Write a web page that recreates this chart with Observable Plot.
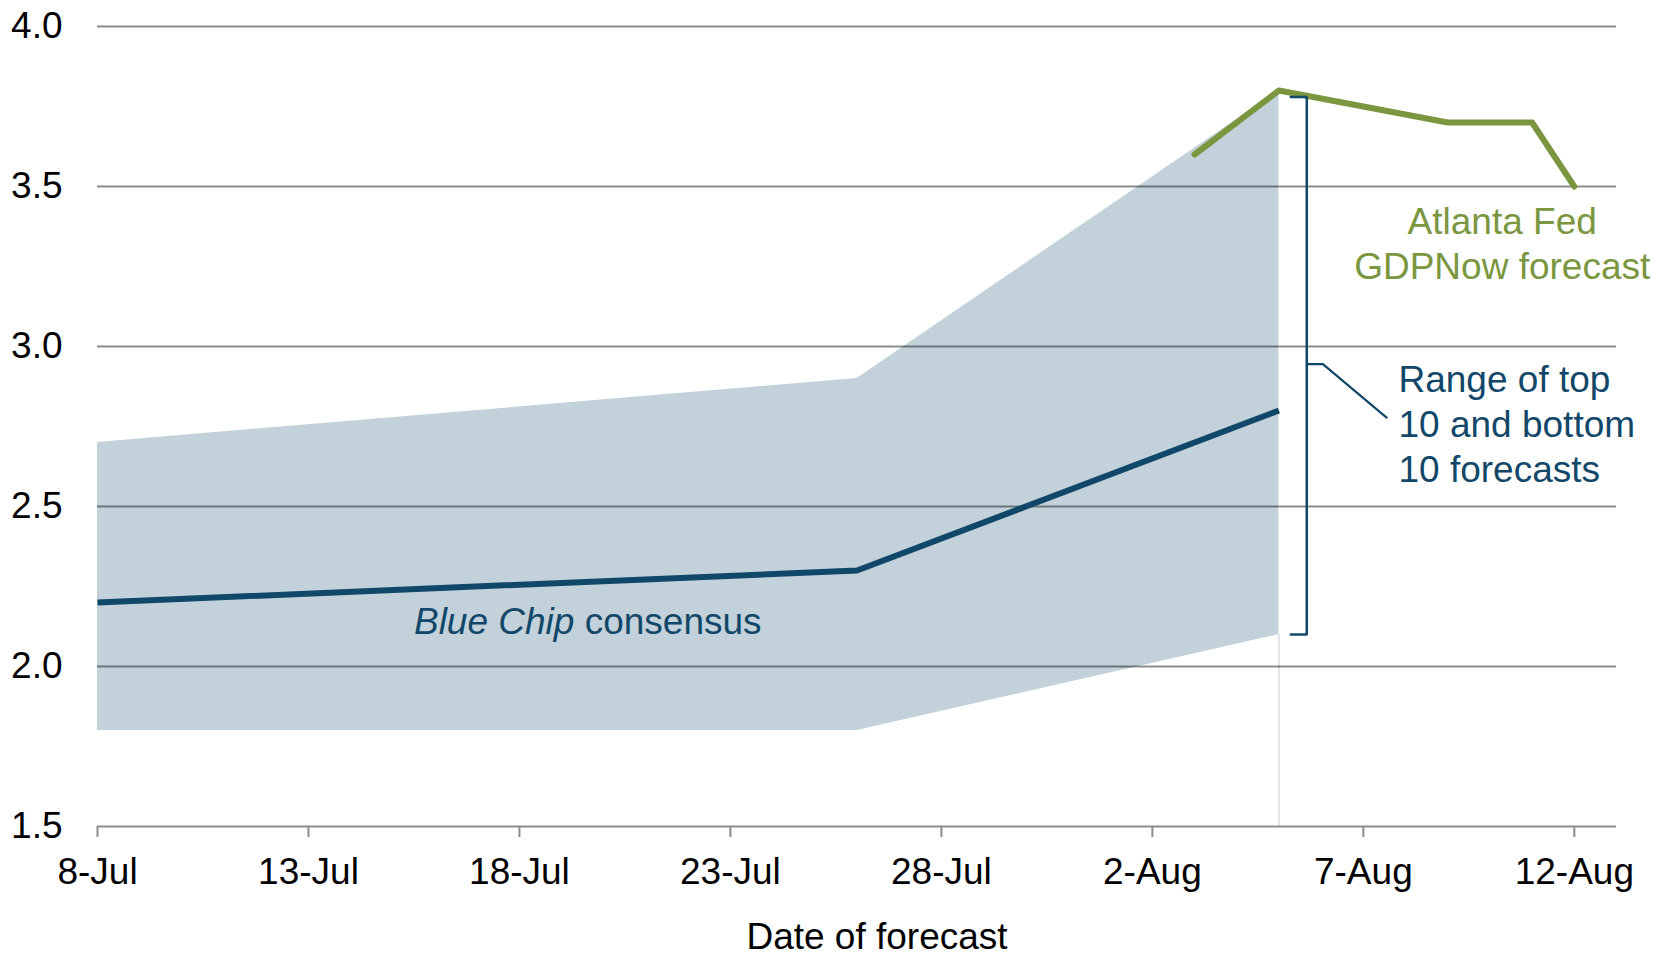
<!DOCTYPE html>
<html><head><meta charset="utf-8">
<script src="https://cdn.jsdelivr.net/npm/d3@7"></script>
<script src="https://cdn.jsdelivr.net/npm/@observablehq/plot@0.6"></script>
<style>
body{margin:0;background:#fff;}
#chart svg{display:block;}
</style>
</head><body><div id="chart"></div>
<script>
// ---- data ----
const bandDates = ["2016-07-08","2016-07-26","2016-08-05"];
const bandLow   = [1.8, 1.8, 2.1];
const bandHigh  = [2.7, 2.9, 3.8];

const blueChipDates  = ["2016-07-08","2016-07-26","2016-08-05"];
const blueChipValues = [2.2, 2.3, 2.8];

const gdpNowDates  = ["2016-08-03","2016-08-05","2016-08-09","2016-08-11","2016-08-12"];
const gdpNowValues = [3.6, 3.8, 3.7, 3.7, 3.5];

const yTicks = [1.5, 2.0, 2.5, 3.0, 3.5, 4.0];
const xTickDates = ["2016-07-08","2016-07-13","2016-07-18","2016-07-23","2016-07-28","2016-08-02","2016-08-07","2016-08-12"];
const xDomain = ["2016-07-08","2016-08-13"];

// bracket annotation (range of top 10 / bottom 10 at 5-Aug)
const bracketDates  = ["2016-08-05T06:45","2016-08-05T15:50","2016-08-05T15:50","2016-08-05T06:45"];
const bracketValues = [3.78, 3.78, 2.10, 2.10];
const leaderDates   = ["2016-08-05T15:50","2016-08-06T01:00","2016-08-07T13:15"];
const leaderValues  = [2.945, 2.945, 2.778];

const labelTexts  = ["Blue Chip consensus", "Range of top\n10 and bottom\n10 forecasts", "Atlanta Fed\nGDPNow forecast"];
const labelDates  = ["2016-07-15T12:00", "2016-08-07T20:00", "2016-08-10T07:00"];
const labelValues = [2.14, 2.958, 3.452];

// ---- helpers ----
const P = s => new Date(s.length === 10 ? s + "T00:00:00Z" : s + ":00Z");
const band = bandDates.map((d, i) => ({date: P(d), lo: bandLow[i], hi: bandHigh[i]}));
const blue = blueChipDates.map((d, i) => ({date: P(d), v: blueChipValues[i]}));
const green = gdpNowDates.map((d, i) => ({date: P(d), v: gdpNowValues[i]}));
const bracket = bracketDates.map((d, i) => ({date: P(d), v: bracketValues[i]}));
const leader = leaderDates.map((d, i) => ({date: P(d), v: leaderValues[i]}));
const labels = labelTexts.map((t, i) => ({t, date: P(labelDates[i]), v: labelValues[i]}));

const BLUE = "#114769", GREEN = "#7a963f", BAND = "#c3d1da", GRID = "#000";
const FONT = "'Liberation Sans', Arial, sans-serif";
const FS = 37;

const chart = Plot.plot({
  width: 1658,
  height: 955,
  marginLeft: 97,
  marginRight: 42,
  marginTop: 26,
  marginBottom: 129,
  style: {fontFamily: FONT, fontSize: FS + "px", color: "#000", background: "#fff"},
  x: {type: "utc", domain: xDomain.map(P)},
  y: {domain: [1.5, 4.0]},
  marks: [
    Plot.areaY(band, {x: "date", y1: "lo", y2: "hi", fill: BAND, curve: "linear"}),
    Plot.ruleX([P(bandDates[2])], {y1: 1.5, y2: bandLow[2], stroke: "#d6dce0", strokeWidth: 1.5}),
    Plot.ruleY(yTicks.slice(1), {stroke: GRID, strokeOpacity: 0.45, strokeWidth: 2}),
    Plot.ruleY([1.5], {stroke: "#8c8c8c", strokeWidth: 2}),
    Plot.axisY({ticks: yTicks, tickSize: 0, tickPadding: 35, tickFormat: d => d.toFixed(1), fontSize: FS, fill: "#000"}),
    Plot.axisX({ticks: xTickDates.map(P), tickFormat: d3.utcFormat("%-d-%b"), tickSize: 11, tickPadding: 20, stroke: "#8c8c8c", strokeWidth: 2, fontSize: FS, fill: "#000", label: null}),
    Plot.text(["Date of forecast"], {frameAnchor: "bottom", dx: 20, dy: 122, fontSize: FS, fill: "#000"}),
    Plot.line(blue, {x: "date", y: "v", stroke: BLUE, strokeWidth: 6, strokeLinecap: "butt"}),
    Plot.line(green, {x: "date", y: "v", stroke: GREEN, strokeWidth: 6}),
    Plot.line(bracket, {x: "date", y: "v", stroke: BLUE, strokeWidth: 2.5, curve: "linear", strokeLinejoin: "miter"}),
    Plot.line(leader, {x: "date", y: "v", stroke: BLUE, strokeWidth: 2.2, curve: "linear", strokeLinejoin: "miter"}),
    Plot.text(labels.slice(0, 1), {x: "date", y: "v", text: "t", textAnchor: "start", fill: BLUE, fontSize: FS}),
    Plot.text(labels.slice(1, 2), {x: "date", y: "v", text: "t", textAnchor: "start", lineAnchor: "top", lineHeight: 1.22, fill: BLUE, fontSize: FS}),
    Plot.text(labels.slice(2, 3), {x: "date", y: "v", text: "t", textAnchor: "middle", lineAnchor: "top", lineHeight: 1.22, fill: GREEN, fontSize: FS})
  ]
});

// italicize "Blue Chip"
const NS = "http://www.w3.org/2000/svg";
chart.querySelectorAll("text").forEach(t => {
  if (t.textContent === "Blue Chip consensus" && t.children.length === 0) {
    t.textContent = "";
    const a = document.createElementNS(NS, "tspan");
    a.setAttribute("font-style", "italic");
    a.textContent = "Blue Chip";
    const b = document.createElementNS(NS, "tspan");
    b.textContent = " consensus";
    t.append(a, b);
  }
});

document.getElementById("chart").append(chart);
</script>
</body></html>
